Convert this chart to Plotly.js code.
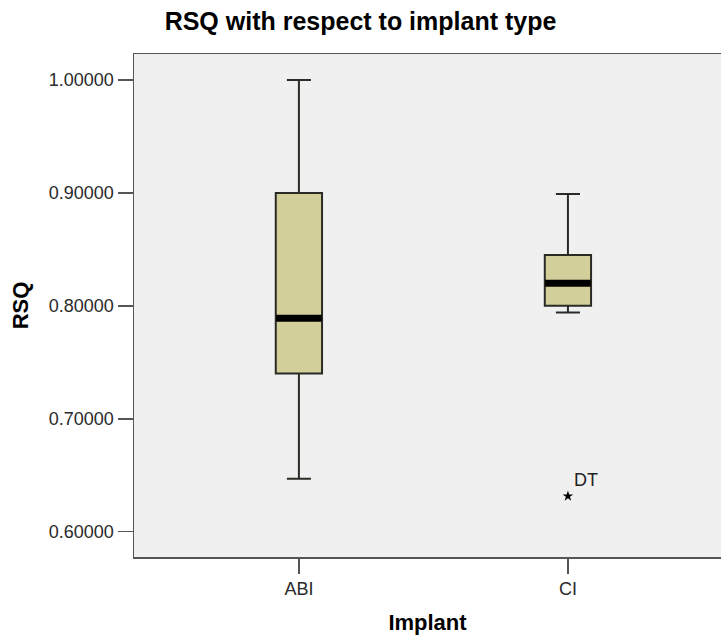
<!DOCTYPE html>
<html>
<head>
<meta charset="utf-8">
<script src="https://cdn.plot.ly/plotly-3.0.1.min.js"></script>
<style>
  html, body { margin: 0; padding: 0; background: #ffffff; }
  #chart { width: 721px; height: 637px; }
</style>
</head>
<body>
<div id="chart"></div>
<script>
// Implant groups and their RSQ box-plot summaries
const implants   = ['ABI', 'CI'];
const lowerWhisk = [0.647, 0.794];
const q1         = [0.740, 0.800];
const medians    = [0.789, 0.820];
const q3         = [0.900, 0.845];
const upperWhisk = [1.000, 0.899];

// Extreme case flagged beyond the CI whiskers
const outlierGroup = ['CI'];
const outlierValue = [0.6315];
const outlierLabel = ['DT'];

// Y-axis tick values
const yTicks = [0.6, 0.7, 0.8, 0.9, 1.0];

const fontFamily = '"Liberation Sans", Arial, sans-serif';

const boxes = {
  type: 'box',
  x: implants,
  q1: q1,
  median: medians,
  q3: q3,
  lowerfence: lowerWhisk,
  upperfence: upperWhisk,
  width: 0.172,
  whiskerwidth: 0.52,
  fillcolor: '#d3cf9a',
  line: { color: '#2b2b26', width: 2 },
  boxpoints: false,
  hoverinfo: 'skip',
  showlegend: false
};

// Heavy median bars drawn over each box (line-ew spans 1.4 x size)
const medianBars = {
  type: 'scatter',
  mode: 'markers',
  x: implants,
  y: medians,
  marker: {
    symbol: 'line-ew',
    size: 32.5,
    color: '#000000',
    line: { color: '#000000', width: 7 }
  },
  hoverinfo: 'skip',
  showlegend: false
};

const extremes = {
  type: 'scatter',
  mode: 'markers+text',
  x: outlierGroup,
  y: outlierValue,
  text: outlierLabel,
  textposition: 'top right',
  textfont: { family: fontFamily, size: 18, color: '#222222' },
  marker: { symbol: 'star', size: 8, color: '#000000' },
  hoverinfo: 'skip',
  showlegend: false
};

const layout = {
  width: 721,
  height: 637,
  margin: { l: 134, r: 0, t: 54, b: 80 },
  paper_bgcolor: '#ffffff',
  plot_bgcolor: '#f0f0f0',
  font: { family: fontFamily, color: '#222222' },
  title: {
    text: '<b>RSQ with respect to implant type</b>',
    font: { family: fontFamily, size: 25, color: '#000000' },
    x: 0.5,
    xref: 'container',
    y: 0.967,
    yref: 'container',
    yanchor: 'middle'
  },
  xaxis: {
    type: 'category',
    range: [-0.613, 1.569],
    showline: true,
    mirror: true,
    linecolor: '#555555',
    linewidth: 1.5,
    ticks: 'outside',
    ticklen: 15,
    tickwidth: 1.5,
    tickcolor: '#555555',
    tickfont: { family: fontFamily, size: 18, color: '#2a2a2a' },
    showgrid: false,
    zeroline: false,
    title: {
      text: '<b>Implant</b>',
      font: { family: fontFamily, size: 22, color: '#000000' },
      standoff: 16
    }
  },
  yaxis: {
    range: [0.5776, 1.023],
    tickvals: yTicks,
    tickformat: '.5f',
    showline: true,
    mirror: false,
    linecolor: '#555555',
    linewidth: 1.5,
    ticks: 'outside',
    ticklen: 15,
    tickwidth: 1.5,
    tickcolor: '#555555',
    tickfont: { family: fontFamily, size: 18, color: '#2a2a2a' },
    showgrid: false,
    zeroline: false,
    title: {
      text: '<b>RSQ</b>',
      font: { family: fontFamily, size: 22, color: '#000000' },
      standoff: 14
    }
  }
};

Plotly.newPlot('chart', [boxes, medianBars, extremes], layout, {
  displayModeBar: false,
  staticPlot: true
});
</script>
</body>
</html>
